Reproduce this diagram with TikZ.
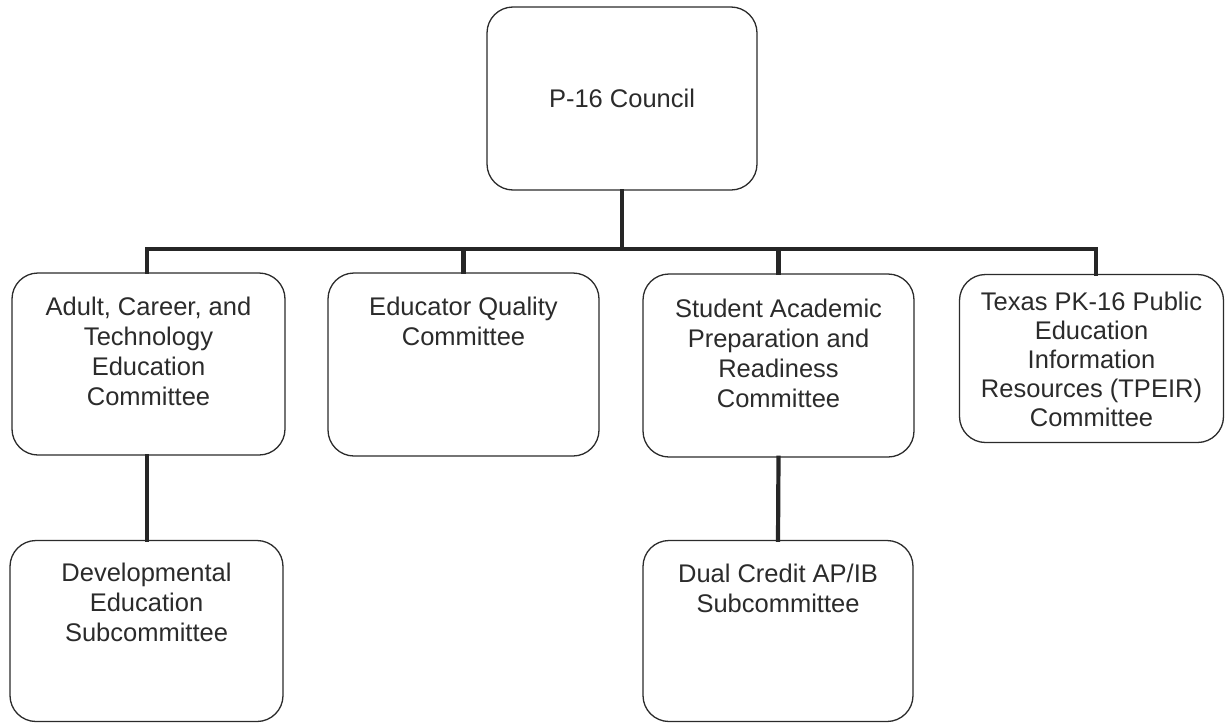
\documentclass[tikz,border=0pt]{standalone}
\usepackage{fontspec}
\setmainfont{Liberation Sans}
\definecolor{ink}{HTML}{2B2B2B}
\newcommand{\boxtext}[3]{\begin{minipage}[c][\dimexpr #1pt-2\dimexpr #2pt\relax\relax][t]{262pt}\centering\fontsize{25.5}{30}\selectfont #3\end{minipage}}
\newcommand{\boxtextb}[3]{\begin{minipage}[c][\dimexpr #1pt-2\dimexpr #2pt\relax\relax][t]{262pt}\centering\fontsize{25.5}{29}\selectfont #3\end{minipage}}
\tikzset{
  orgbox/.style={draw=ink, line width=1.3pt, rounded corners=26pt, inner sep=0pt, text=ink, fill=white},
  conn/.style={draw=black!85, line width=4.2pt, line join=miter, line cap=rect}
}
\begin{document}
\begin{tikzpicture}[x=1pt, y=-1pt]
\useasboundingbox (0,0) rectangle (1225,723);
% boxes
\node[orgbox, minimum width=270pt, minimum height=183pt] (top) at (622,98.5)
  {\fontsize{25.5}{30}\selectfont\raisebox{-3pt}{P-16 Council}};
\node[orgbox, minimum width=273pt, minimum height=182pt] (b1) at (148.5,364)
  {\boxtext{182}{24}{Adult, Career, and\\Technology\\Education\\Committee}};
\node[orgbox, minimum width=271pt, minimum height=183pt] (b2) at (463.5,364.5)
  {\boxtext{183}{24}{Educator Quality\\Committee}};
\node[orgbox, minimum width=271pt, minimum height=183pt] (b3) at (778.5,365.5)
  {\boxtext{183}{25}{Student Academic\\Preparation and\\Readiness\\Committee}};
\node[orgbox, minimum width=264pt, minimum height=168pt] (b4) at (1091.5,358.5)
  {\boxtextb{168}{18}{Texas PK-16 Public\\Education\\Information\\Resources (TPEIR)\\Committee}};
\node[orgbox, minimum width=273pt, minimum height=181pt] (b5) at (146.5,631)
  {\boxtext{181}{23}{Developmental\\Education\\Subcommittee}};
\node[orgbox, minimum width=270pt, minimum height=181pt] (b6) at (778,631)
  {\boxtext{181}{24}{Dual Credit AP/IB\\Subcommittee}};
% connectors
\coordinate (busL) at (147,249);
\coordinate (busR) at (1096,249);
\draw[conn] (b1.north -| busL) -- (busL) -- (busR) -- (busR |- b4.north);
\draw[conn] (top.south) -- (top.south |- busL);
\draw[conn] (b2.north) -- (b2.north |- busL);
\draw[conn] (b3.north) -- (b3.north |- busL);
\draw[conn] (b1.south -| busL) -- (b5.north -| busL);
\draw[conn] (b3.south) -- (b6.north);
\end{tikzpicture}
\end{document}
